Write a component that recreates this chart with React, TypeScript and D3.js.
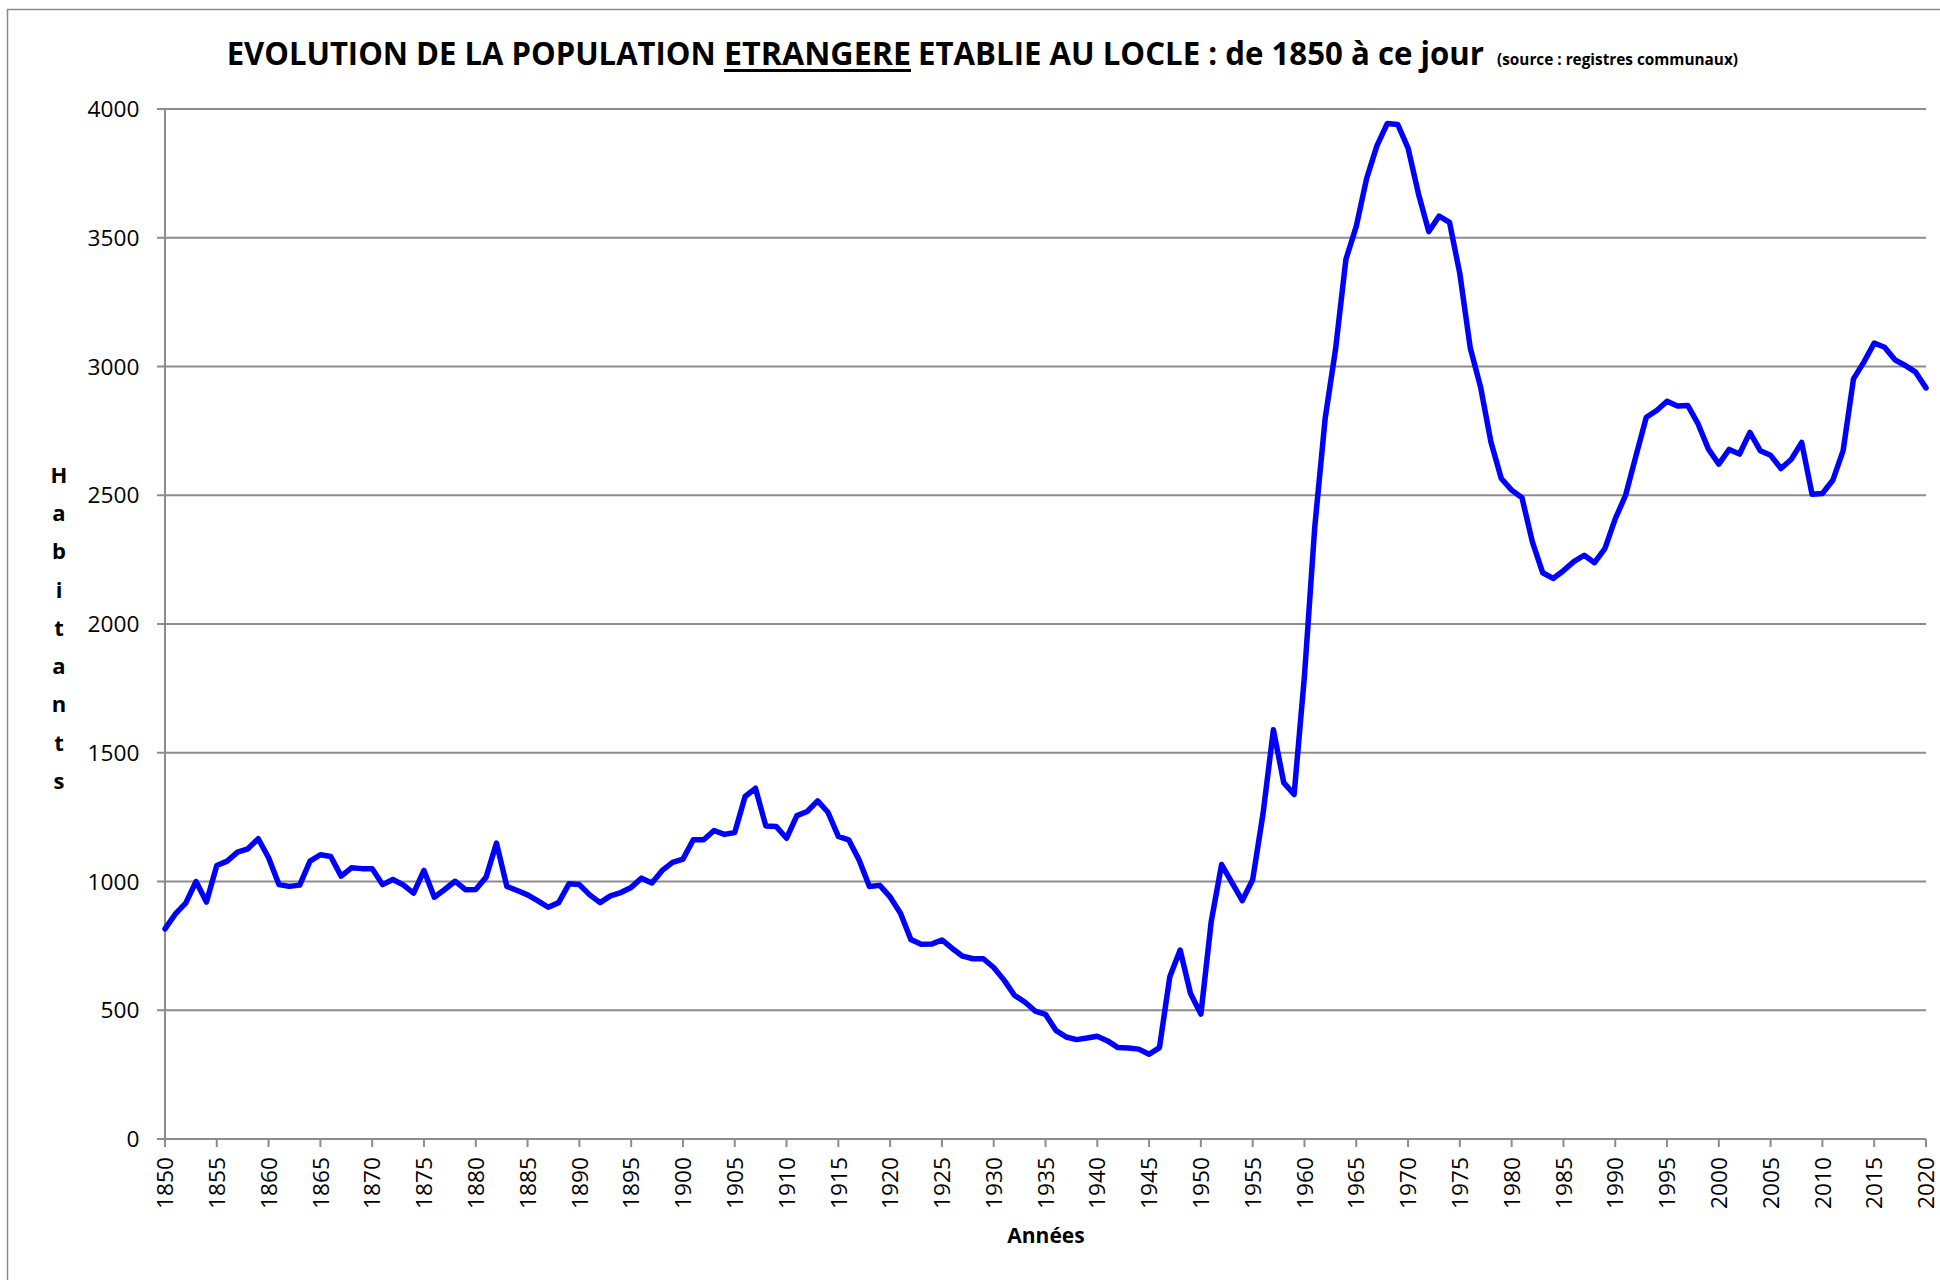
import React from 'react';
import * as d3 from 'd3';

// Categories (years) and series values
const YEARS: number[] = d3.range(1850, 2021);
const FOREIGN_POP: number[] = [
  816, 874, 916, 1000, 920, 1062, 1079, 1114, 1127, 1166,
  1092, 988, 981, 986, 1079, 1104, 1097, 1021, 1053, 1050,
  1050, 988, 1008, 987, 955, 1043, 939, 969, 1001, 968,
  969, 1017, 1149, 981, 965, 948, 925, 900, 918, 991,
  988, 948, 918, 944, 957, 977, 1013, 994, 1043, 1074,
  1087, 1162, 1162, 1198, 1183, 1190, 1330, 1362, 1216, 1214,
  1168, 1256, 1272, 1313, 1269, 1175, 1162, 1084, 981, 985,
  940, 877, 775, 756, 757, 773, 740, 710, 700, 700,
  666, 617, 558, 532, 497, 484, 422, 396, 386, 392,
  399, 381, 355, 353, 349, 329, 355, 630, 734, 565,
  485, 845, 1066, 996, 926, 1007, 1263, 1589, 1384, 1338,
  1799, 2380, 2799, 3067, 3416, 3544, 3730, 3858, 3944, 3940,
  3848, 3671, 3524, 3584, 3560, 3360, 3073, 2920, 2707, 2565,
  2520, 2490, 2319, 2199, 2177, 2207, 2242, 2267, 2238, 2293,
  2408, 2500, 2653, 2803, 2829, 2865, 2847, 2849, 2777, 2679,
  2621, 2678, 2660, 2744, 2673, 2655, 2604, 2640, 2705, 2504,
  2507, 2558, 2673, 2952, 3017, 3091, 3075, 3026, 3004, 2978,
  2917,
];
const Y_TICKS: number[] = [0, 500, 1000, 1500, 2000, 2500, 3000, 3500, 4000];
const X_TICKS: number[] = [
  1850, 1855, 1860, 1865, 1870, 1875, 1880, 1885, 1890, 1895, 1900, 1905,
  1910, 1915, 1920, 1925, 1930, 1935, 1940, 1945, 1950, 1955, 1960, 1965,
  1970, 1975, 1980, 1985, 1990, 1995, 2000, 2005, 2010, 2015, 2020,
];
const TITLE_A = 'EVOLUTION DE LA POPULATION';
const TITLE_B = 'ETRANGERE';
const TITLE_C = 'ETABLIE AU LOCLE : de 1850 à ce jour';
const TITLE_SOURCE = '(source : registres communaux)';
const Y_TITLE = 'Habitants';
const X_TITLE = 'Années';

export default function App() {
  const W = 1940;
  const H = 1280;
  const x = d3.scaleLinear().domain([1850, 2020]).range([165, 1926]);
  const y = d3.scaleLinear().domain([0, 4000]).range([1139, 109]);
  const lineGen = d3
    .line<number>()
    .x((_, i) => x(YEARS[i]))
    .y((d) => y(d));
  const path = lineGen(FOREIGN_POP) || '';
  const gridColor = '#8c8c8c';
  const sans = '"Open Sans", "Liberation Sans", sans-serif';

  return (
    <svg
      width={W}
      height={H}
      style={{ position: 'absolute', left: 0, top: 0, background: '#fff' }}
      xmlns="http://www.w3.org/2000/svg"
    >
      <rect x={0} y={0} width={W} height={H} fill="#fff" />
      {/* chart frame */}
      <rect x={7.5} y={9.5} width={W} height={H} fill="none" stroke="#8a8a8a" strokeWidth={1.5} />

      {/* title */}
      <g fontFamily={sans} fontWeight="bold" fill="#000">
        <text x={226.7} y={64.5} fontSize={31.5} textLength={489} lengthAdjust="spacingAndGlyphs">
          {TITLE_A}
        </text>
        <text x={724} y={64.5} fontSize={31.5} textLength={187} lengthAdjust="spacingAndGlyphs">
          {TITLE_B}
        </text>
        <line x1={724} x2={911} y1={70.5} y2={70.5} stroke="#000" strokeWidth={2.8} />
        <text x={918} y={64.5} fontSize={31.5} textLength={566} lengthAdjust="spacingAndGlyphs">
          {TITLE_C}
        </text>
        <text x={1497} y={64.5} fontSize={16} textLength={241} lengthAdjust="spacingAndGlyphs">
          {TITLE_SOURCE}
        </text>
      </g>

      {/* horizontal gridlines + y ticks */}
      <g>
        {Y_TICKS.map((t) => (
          <g key={t}>
            <line x1={157} x2={x(2020)} y1={y(t)} y2={y(t)} stroke={gridColor} strokeWidth={2} />
            <text
              x={139.5}
              y={y(t)}
              dy="0.36em"
              textAnchor="end"
              fontFamily={sans}
              fontSize={22.7}
              fill="#000"
            >
              {t}
            </text>
          </g>
        ))}
      </g>

      {/* axes */}
      <line x1={x(1850)} x2={x(1850)} y1={y(4000)} y2={y(0) + 8} stroke={gridColor} strokeWidth={2} />
      {X_TICKS.map((t) => (
        <g key={t}>
          <line x1={x(t)} x2={x(t)} y1={y(0)} y2={y(0) + 8} stroke={gridColor} strokeWidth={2} />
          <text
            transform={`translate(${x(t)},${1157}) rotate(-90)`}
            textAnchor="end"
            dy="0.36em"
            fontFamily={sans}
            fontSize={22.7}
            fill="#000"
          >
            {t}
          </text>
        </g>
      ))}

      {/* series */}
      <path d={path} fill="none" stroke="#0000ff" strokeWidth={5.5} strokeLinejoin="round" strokeLinecap="round" />

      {/* axis titles */}
      <g fontFamily={sans} fontWeight="bold" fontSize={22} fill="#000" textAnchor="middle">
        {Y_TITLE.split('').map((ch, i) => (
          <text key={i} x={59} y={475 + i * 38.25} dy="0.36em">
            {ch}
          </text>
        ))}
      </g>
      <text x={1046} y={1243} fontFamily={sans} fontWeight="bold" fontSize={21} textAnchor="middle" fill="#000">
        {X_TITLE}
      </text>
    </svg>
  );
}
